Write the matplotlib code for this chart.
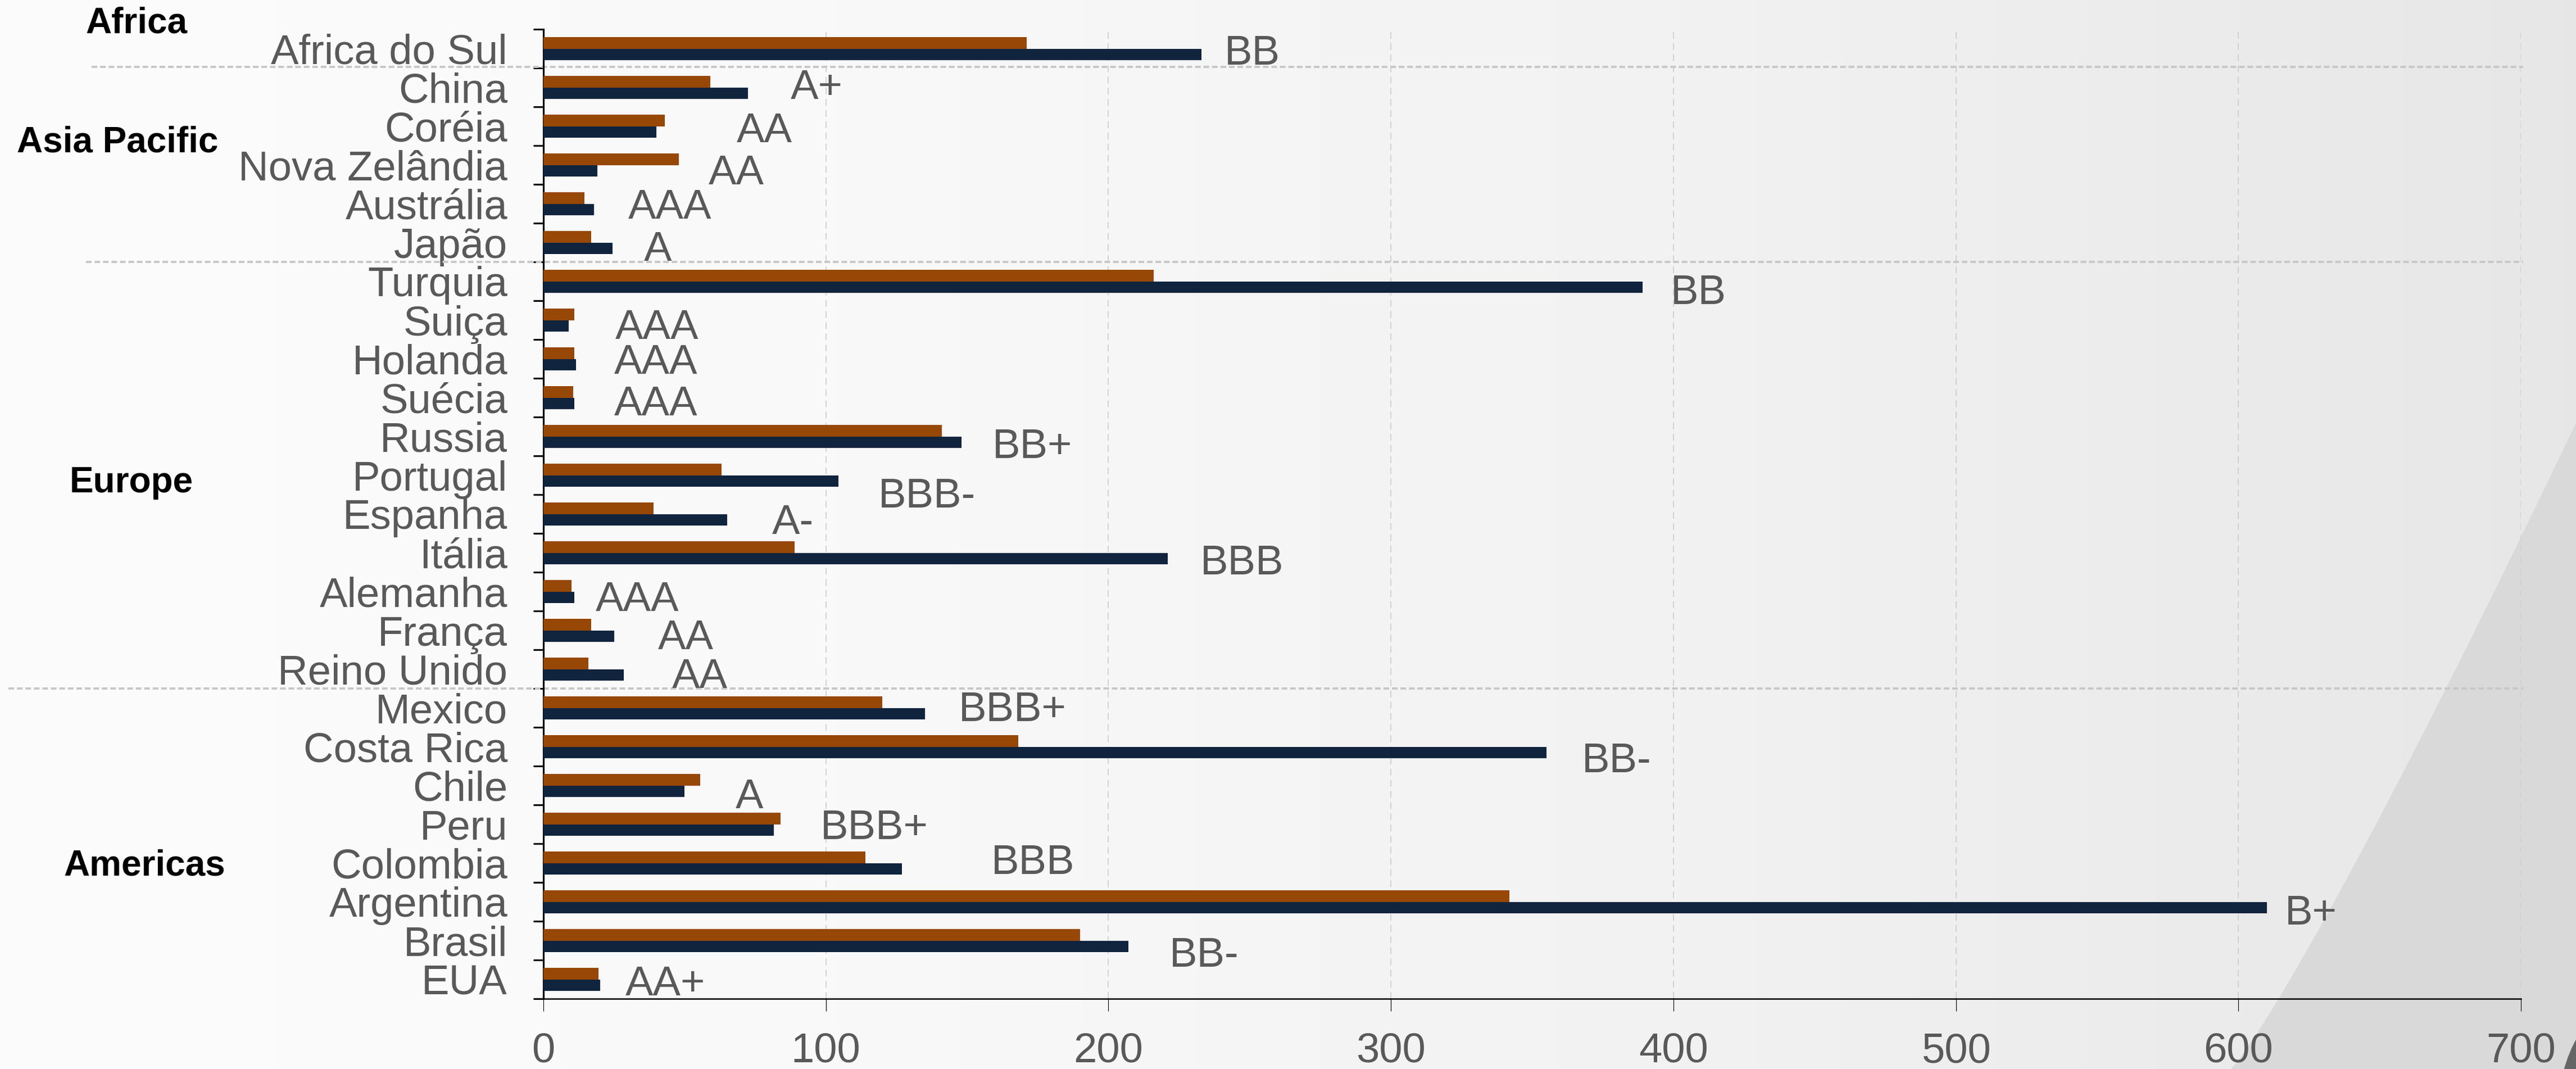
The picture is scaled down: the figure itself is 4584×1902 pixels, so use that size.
import matplotlib.pyplot as plt
import numpy as np
from matplotlib import transforms
from matplotlib.patches import Polygon, Ellipse

plt.rcParams["font.family"] = ["Liberation Sans", "DejaVu Sans"]

W, H, DPI = 4584, 1902, 100

countries = [
    "Africa do Sul", "China", "Coréia", "Nova Zelândia", "Austrália", "Japão",
    "Turquia", "Suiça", "Holanda", "Suécia", "Russia", "Portugal", "Espanha",
    "Itália", "Alemanha", "França", "Reino Unido", "Mexico", "Costa Rica",
    "Chile", "Peru", "Colombia", "Argentina", "Brasil", "EUA",
]
spread_a = [171, 59, 43, 48, 14.5, 17, 216, 11, 11, 10.5, 141, 63, 39, 89,
            10, 17, 16, 120, 168, 55.5, 84, 114, 342, 190, 19.5]
spread_b = [233, 72.5, 40, 19, 18, 24.5, 389, 9, 11.5, 11, 148, 104.5, 65, 221,
            11, 25, 28.5, 135, 355, 50, 81.5, 127, 610, 207, 20]
ratings = ["BB", "A+", "AA", "AA", "AAA", "A", "BB", "AAA", "AAA", "AAA", "BB+",
           "BBB-", "A-", "BBB", "AAA", "AA", "AA", "BBB+", "BB-", "A", "BBB+",
           "BBB", "B+", "BB-", "AA+"]

# where each rating tag sits (x in data units, y offset in category units)
rating_x = [241, 87.5, 68.5, 58.5, 30, 35.5, 399, 25.5, 25, 25, 159, 118.5, 81,
            232.5, 18.5, 40.5, 45.5, 147, 367.5, 68, 98, 158.5, 616.5, 221.5, 29]
rating_dy = [0.03, -0.08, 0.04, 0.12, 0.0, 0.09, 0.2, 0.1, 0.0, 0.08, 0.18, 0.45,
             0.14, 0.18, 0.12, 0.1, 0.11, -0.04, 0.28, 0.2, 0.0, -0.1, 0.2, 0.3, 0.04]

regions = ["Africa", "Asia Pacific", "Europe", "Americas"]
region_y = [-0.65, 2.42, 11.2, 21.07]
region_x = [243, 209, 234, 257]
region_breaks = [0.47, 5.5, 16.5]
break_start = [163, 153, 15]

ORANGE = "#974706"
NAVY = "#10243e"
GREY = "#595959"
FS = 53.5

fig = plt.figure(figsize=(W / DPI, H / DPI), dpi=DPI)

# background: soft horizontal gradient with a darker swoosh bottom right
bg = fig.add_axes([0, 0, 1, 1], zorder=-1)
xs = np.linspace(0, W, 400)
shade = np.interp(xs, [0, 1500, 3000, 4000, W], [251, 248, 241, 234, 230]) / 255
grad = np.tile(shade, (2, 1))
bg.imshow(grad, cmap="gray", vmin=0, vmax=1, extent=(0, W, H, 0), aspect="auto")
t = np.linspace(0, 1, 60)
cx = 3970 + (W - 3970) * t
cy = H - (H - 752) * (t ** 1.12)
swoosh = np.vstack([np.column_stack([cx, cy]), [[W, H]]])
bg.add_patch(Polygon(swoosh, closed=True, facecolor="#d9d9d9", edgecolor="none"))
bg.add_patch(Ellipse((4650, 2000), 200, 400, facecolor="#666666", edgecolor="none"))
bg.set_xlim(0, W)
bg.set_ylim(H, 0)
bg.axis("off")

ax_left, ax_right, ax_top, ax_bottom = 967, 4486, 52, 1777
ax = fig.add_axes([ax_left / W, 1 - ax_bottom / H,
                   (ax_right - ax_left) / W, (ax_bottom - ax_top) / H])
ax.set_facecolor("none")

y = np.arange(len(countries))
bh = 0.29
ax.barh(y - bh / 2, spread_a, height=bh, color=ORANGE, zorder=3)
ax.barh(y + bh / 2, spread_b, height=bh, color=NAVY, zorder=3)

for i, (r, rx, dy) in enumerate(zip(ratings, rating_x, rating_dy)):
    ax.text(rx, i + dy + 0.38, r, ha="left", va="baseline",
            fontsize=FS, color=GREY, zorder=4)

ax.set_xlim(0, 700)
ax.set_ylim(len(countries) - 0.5, -0.5)

ax.set_xticks(np.arange(0, 701, 100))
ax.tick_params(axis="x", direction="out", length=16, width=0.8, color="black",
               pad=27, labelsize=FS, labelcolor=GREY)

ax.set_yticks(y, countries)
ax.set_yticks(np.arange(-0.5, len(countries), 1), minor=True)
ax.tick_params(axis="y", which="major", length=0, pad=46, labelsize=FS,
               labelcolor=GREY)
ax.tick_params(axis="y", which="minor", direction="out", length=13, width=2.2,
               color="black")

for side in ("top", "right"):
    ax.spines[side].set_visible(False)
ax.spines["left"].set_linewidth(2.2)
ax.spines["bottom"].set_linewidth(1.8)

ax.grid(axis="x", color="#c8c8c8", linewidth=1.1, dashes=(7.8, 5.2), zorder=0)

# region separators reach into the label margin
blend = transforms.blended_transform_factory(fig.transFigure, ax.transData)
for yb, xs0 in zip(region_breaks, break_start):
    ax.plot([xs0 / W, 4490 / W], [yb, yb], transform=blend, clip_on=False,
            color="#c8c8c8", linewidth=2.9, dashes=(2.5, 1.25), zorder=2)

for name, ry, rx in zip(regions, region_y, region_x):
    ax.text(rx / W, ry, name, transform=blend, ha="center", va="center",
            fontsize=46, fontweight="bold", color="black")

fig.savefig("out.png", dpi=DPI)
